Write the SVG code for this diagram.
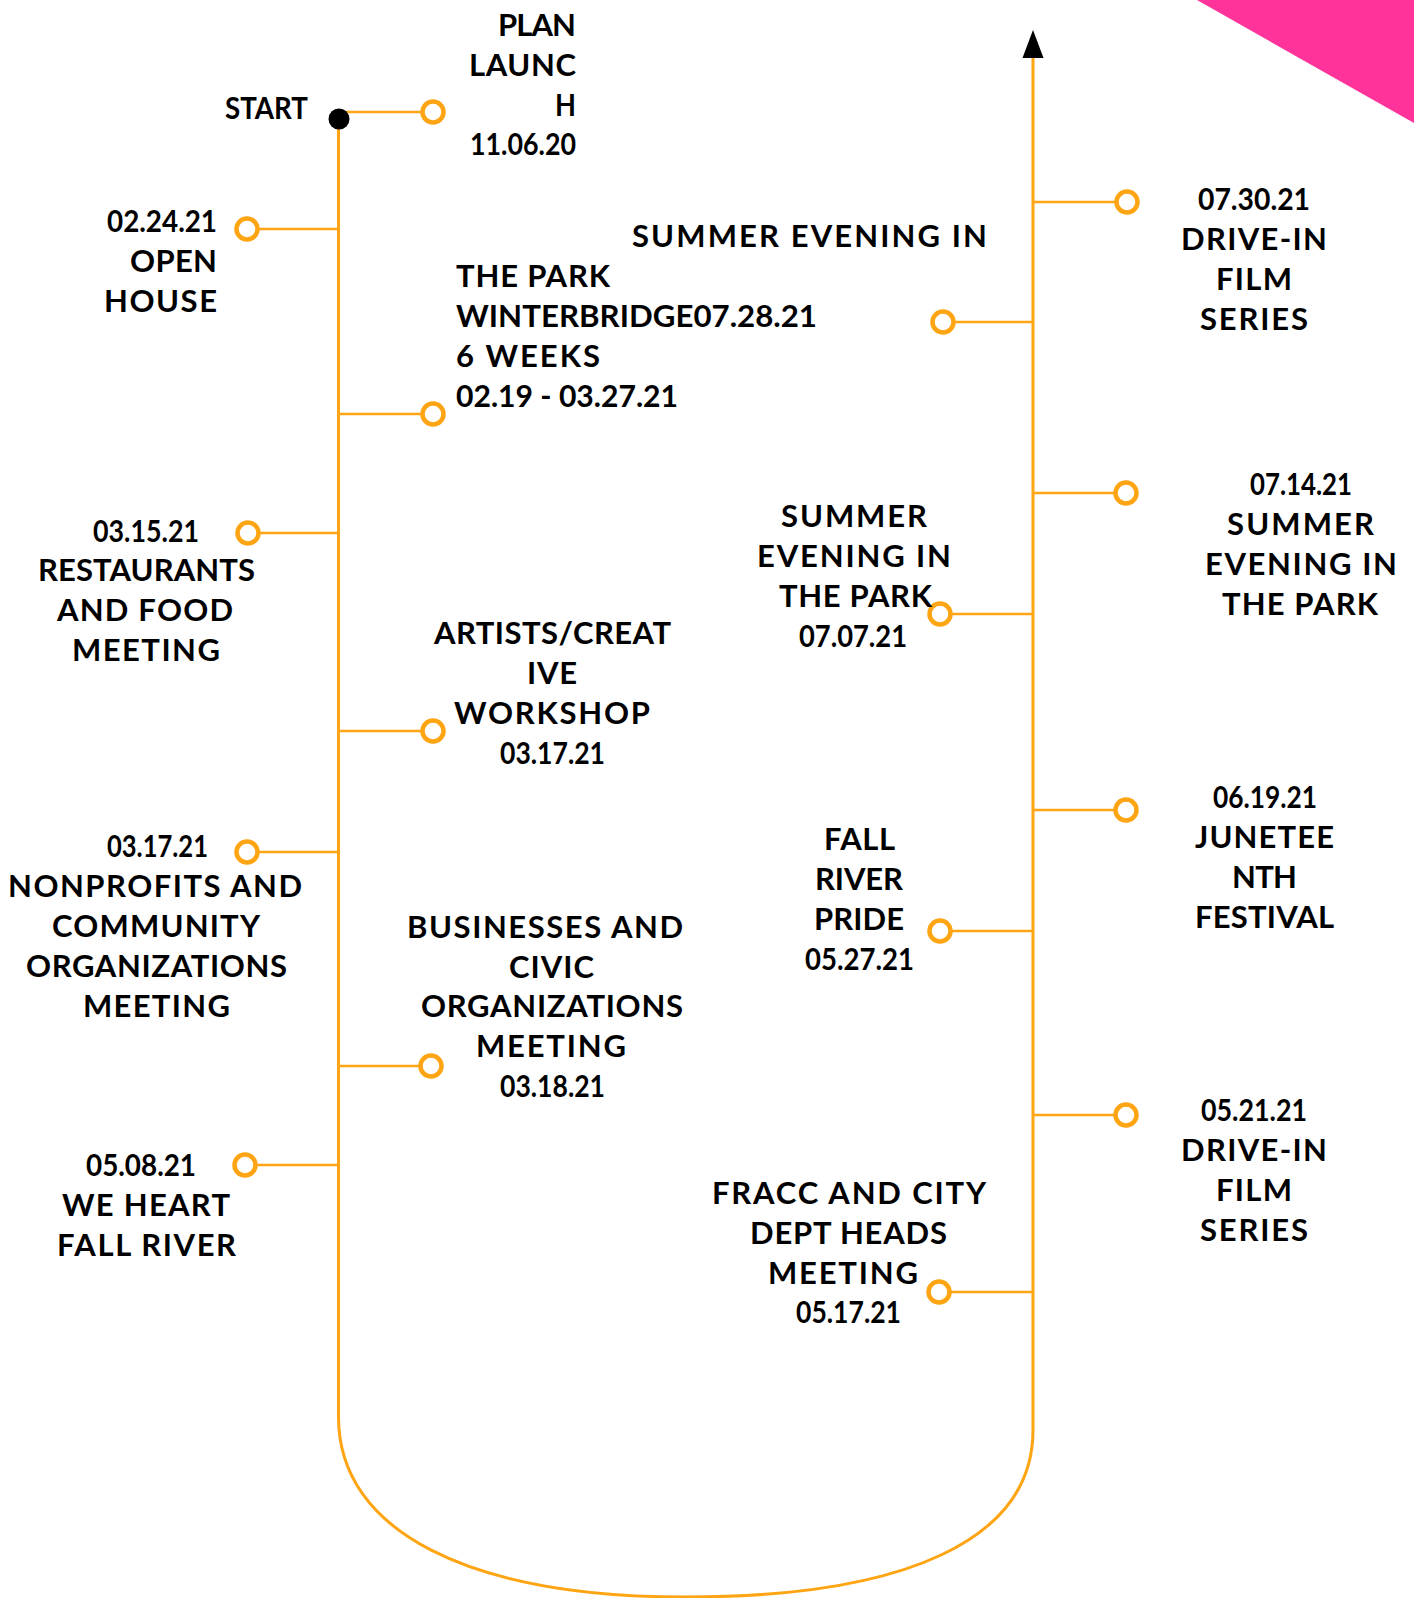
<svg xmlns="http://www.w3.org/2000/svg" width="1414" height="1598" viewBox="0 0 1414 1598">
<defs>
<style>
.t{font-family:Lato,"DejaVu Sans",sans-serif;font-weight:700;font-size:31px;fill:#000}
.l{stroke:#FFA412;stroke-width:2.6;fill:none}
.s{stroke:#FFA412;stroke-width:3;fill:none}
.c{fill:#fff;stroke:#FFA412;stroke-width:4.5}
</style>
</defs>
<rect width="1414" height="1598" fill="#fff"/>
<polygon points="1197,0 1414,0 1414,123" fill="#FF3399"/>
<g id="connectors">
<path class="s" d="M338.5,119 L338.5,1417 C338.5,1532 470,1597 686,1597 C905,1597 1033,1540 1033,1430 L1033,56"/>
<polygon points="1033,30 1022.5,58 1043.5,58" fill="#000"/>
<line class="l" x1="339" y1="112" x2="422" y2="112"/>
<line class="l" x1="258" y1="229" x2="339" y2="229"/>
<line class="l" x1="339" y1="414" x2="422" y2="414"/>
<line class="l" x1="258" y1="533" x2="339" y2="533"/>
<line class="l" x1="339" y1="731" x2="422" y2="731"/>
<line class="l" x1="258" y1="852" x2="339" y2="852"/>
<line class="l" x1="339" y1="1066" x2="420" y2="1066"/>
<line class="l" x1="256" y1="1165" x2="339" y2="1165"/>
<line class="l" x1="1033" y1="202" x2="1116" y2="202"/>
<line class="l" x1="954" y1="322" x2="1033" y2="322"/>
<line class="l" x1="1033" y1="493" x2="1115" y2="493"/>
<line class="l" x1="951" y1="614" x2="1033" y2="614"/>
<line class="l" x1="1033" y1="810" x2="1115" y2="810"/>
<line class="l" x1="951" y1="931" x2="1033" y2="931"/>
<line class="l" x1="1033" y1="1115" x2="1115" y2="1115"/>
<line class="l" x1="950" y1="1292" x2="1033" y2="1292"/>
</g>
<g id="start">
<circle cx="339" cy="119" r="10.5" fill="#000"/>
<text class="t" x="225" y="119" font-size="29" textLength="83" lengthAdjust="spacingAndGlyphs">START</text>
</g>
<g id="plan-launch">
<circle class="c" cx="433" cy="112" r="10.5"/>
<text class="t" x="498" y="36" textLength="78" lengthAdjust="spacing">PLAN</text>
<text class="t" x="469" y="76" textLength="107" lengthAdjust="spacing">LAUNC</text>
<text class="t" x="555" y="116" textLength="21" lengthAdjust="spacingAndGlyphs">H</text>
<text class="t" x="470" y="155" textLength="106" lengthAdjust="spacingAndGlyphs">11.06.20</text>
</g>
<g id="open-house">
<circle class="c" cx="247" cy="229" r="10.5"/>
<text class="t" x="107" y="232" textLength="110" lengthAdjust="spacingAndGlyphs">02.24.21</text>
<text class="t" x="130" y="272" textLength="87" lengthAdjust="spacing">OPEN</text>
<text class="t" x="104" y="312" textLength="113" lengthAdjust="spacing">HOUSE</text>
</g>
<g id="winterbridge">
<circle class="c" cx="433" cy="414" r="10.5"/>
<text class="t" x="456" y="287" textLength="154" lengthAdjust="spacing">THE PARK</text>
<text class="t" x="456" y="327" textLength="361" lengthAdjust="spacingAndGlyphs">WINTERBRIDGE07.28.21</text>
<text class="t" x="456" y="367" textLength="144" lengthAdjust="spacing">6 WEEKS</text>
<text class="t" x="456" y="407" textLength="222" lengthAdjust="spacingAndGlyphs">02.19 - 03.27.21</text>
</g>
<g id="summer-0728">
<circle class="c" cx="943" cy="322" r="10.5"/>
<text class="t" x="632" y="247" textLength="355" lengthAdjust="spacing">SUMMER EVENING IN</text>
</g>
<g id="drive-in-0730">
<circle class="c" cx="1127" cy="202" r="10.5"/>
<text class="t" x="1198" y="210" textLength="112" lengthAdjust="spacingAndGlyphs">07.30.21</text>
<text class="t" x="1181" y="250" textLength="146" lengthAdjust="spacing">DRIVE-IN</text>
<text class="t" x="1216" y="290" textLength="76" lengthAdjust="spacing">FILM</text>
<text class="t" x="1200" y="330" textLength="108" lengthAdjust="spacing">SERIES</text>
</g>
<g id="restaurants">
<circle class="c" cx="248" cy="533" r="10.5"/>
<text class="t" x="93" y="542" textLength="106" lengthAdjust="spacingAndGlyphs">03.15.21</text>
<text class="t" x="38" y="581" textLength="217" lengthAdjust="spacing">RESTAURANTS</text>
<text class="t" x="57" y="621" textLength="176" lengthAdjust="spacing">AND FOOD</text>
<text class="t" x="72" y="661" textLength="148" lengthAdjust="spacing">MEETING</text>
</g>
<g id="summer-0714">
<circle class="c" cx="1126" cy="493" r="10.5"/>
<text class="t" x="1250" y="495" textLength="102" lengthAdjust="spacingAndGlyphs">07.14.21</text>
<text class="t" x="1227" y="535" textLength="147" lengthAdjust="spacing">SUMMER</text>
<text class="t" x="1205" y="575" textLength="192" lengthAdjust="spacing">EVENING IN</text>
<text class="t" x="1222" y="615" textLength="156" lengthAdjust="spacing">THE PARK</text>
</g>
<g id="summer-0707">
<circle class="c" cx="940" cy="614" r="10.5"/>
<text class="t" x="781" y="527" textLength="146" lengthAdjust="spacing">SUMMER</text>
<text class="t" x="757" y="567" textLength="194" lengthAdjust="spacing">EVENING IN</text>
<text class="t" x="779" y="607" textLength="153" lengthAdjust="spacing">THE PARK</text>
<text class="t" x="799" y="647" textLength="108" lengthAdjust="spacingAndGlyphs">07.07.21</text>
</g>
<g id="artists">
<circle class="c" cx="433" cy="731" r="10.5"/>
<text class="t" x="434" y="644" textLength="237" lengthAdjust="spacing">ARTISTS/CREAT</text>
<text class="t" x="527" y="684" textLength="50" lengthAdjust="spacing">IVE</text>
<text class="t" x="454" y="724" textLength="196" lengthAdjust="spacing">WORKSHOP</text>
<text class="t" x="500" y="764" textLength="105" lengthAdjust="spacingAndGlyphs">03.17.21</text>
</g>
<g id="nonprofits">
<circle class="c" cx="247" cy="852" r="10.5"/>
<text class="t" x="107" y="857" textLength="101" lengthAdjust="spacingAndGlyphs">03.17.21</text>
<text class="t" x="8" y="897" textLength="294" lengthAdjust="spacing">NONPROFITS AND</text>
<text class="t" x="52" y="937" textLength="208" lengthAdjust="spacing">COMMUNITY</text>
<text class="t" x="26" y="977" textLength="261" lengthAdjust="spacing">ORGANIZATIONS</text>
<text class="t" x="83" y="1017" textLength="147" lengthAdjust="spacing">MEETING</text>
</g>
<g id="juneteenth">
<circle class="c" cx="1126" cy="810" r="10.5"/>
<text class="t" x="1213" y="808" textLength="104" lengthAdjust="spacingAndGlyphs">06.19.21</text>
<text class="t" x="1195" y="848" textLength="139" lengthAdjust="spacing">JUNETEE</text>
<text class="t" x="1232" y="888" textLength="65" lengthAdjust="spacing">NTH</text>
<text class="t" x="1195" y="928" textLength="139" lengthAdjust="spacing">FESTIVAL</text>
</g>
<g id="pride">
<circle class="c" cx="940" cy="931" r="10.5"/>
<text class="t" x="824" y="850" textLength="71" lengthAdjust="spacing">FALL</text>
<text class="t" x="815" y="890" textLength="88" lengthAdjust="spacing">RIVER</text>
<text class="t" x="814" y="930" textLength="90" lengthAdjust="spacing">PRIDE</text>
<text class="t" x="805" y="970" textLength="109" lengthAdjust="spacingAndGlyphs">05.27.21</text>
</g>
<g id="businesses">
<circle class="c" cx="431" cy="1066" r="10.5"/>
<text class="t" x="407" y="938" textLength="276" lengthAdjust="spacing">BUSINESSES AND</text>
<text class="t" x="509" y="978" textLength="85" lengthAdjust="spacing">CIVIC</text>
<text class="t" x="421" y="1017" textLength="262" lengthAdjust="spacing">ORGANIZATIONS</text>
<text class="t" x="476" y="1057" textLength="150" lengthAdjust="spacing">MEETING</text>
<text class="t" x="500" y="1097" textLength="105" lengthAdjust="spacingAndGlyphs">03.18.21</text>
</g>
<g id="drive-in-0521">
<circle class="c" cx="1126" cy="1115" r="10.5"/>
<text class="t" x="1201" y="1121" textLength="106" lengthAdjust="spacingAndGlyphs">05.21.21</text>
<text class="t" x="1181" y="1161" textLength="146" lengthAdjust="spacing">DRIVE-IN</text>
<text class="t" x="1216" y="1201" textLength="76" lengthAdjust="spacing">FILM</text>
<text class="t" x="1200" y="1241" textLength="108" lengthAdjust="spacing">SERIES</text>
</g>
<g id="we-heart">
<circle class="c" cx="245" cy="1165" r="10.5"/>
<text class="t" x="86" y="1176" textLength="110" lengthAdjust="spacingAndGlyphs">05.08.21</text>
<text class="t" x="62" y="1216" textLength="168" lengthAdjust="spacing">WE HEART</text>
<text class="t" x="57" y="1256" textLength="179" lengthAdjust="spacing">FALL RIVER</text>
</g>
<g id="fracc">
<circle class="c" cx="939" cy="1292" r="10.5"/>
<text class="t" x="712" y="1204" textLength="274" lengthAdjust="spacing">FRACC AND CITY</text>
<text class="t" x="750" y="1244" textLength="197" lengthAdjust="spacing">DEPT HEADS</text>
<text class="t" x="768" y="1284" textLength="150" lengthAdjust="spacing">MEETING</text>
<text class="t" x="796" y="1323" textLength="105" lengthAdjust="spacingAndGlyphs">05.17.21</text>
</g>
</svg>
